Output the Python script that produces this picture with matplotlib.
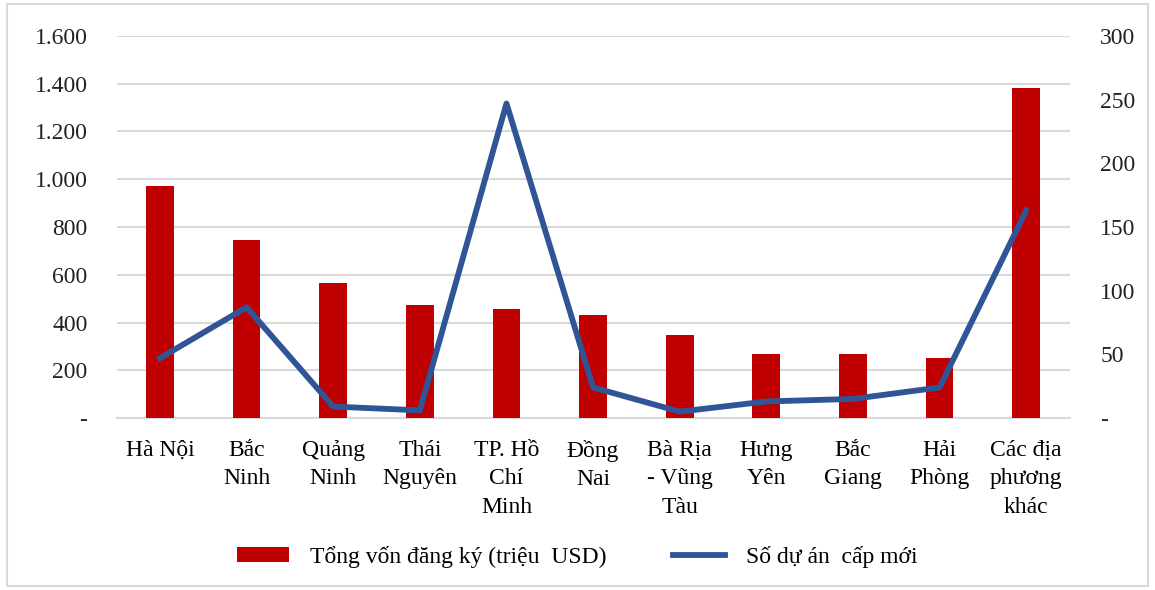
import matplotlib
matplotlib.use('Agg')
import matplotlib.pyplot as plt
from matplotlib.patches import Rectangle
from matplotlib.ticker import FuncFormatter
import numpy as np

plt.rcParams['font.family'] = ['Liberation Serif', 'DejaVu Serif']

# du lieu
dia_phuong = ['Hà Nội', 'Bắc\nNinh', 'Quảng\nNinh', 'Thái\nNguyên', 'TP. Hồ\nChí\nMinh',
              'Đồng\nNai', 'Bà Rịa\n- Vũng\nTàu', 'Hưng\nYên', 'Bắc\nGiang', 'Hải\nPhòng',
              'Các địa\nphương\nkhác']
tong_von = [972, 745, 565, 473, 457, 431, 348, 268, 268, 251, 1382]
so_du_an = [47, 87, 9, 6, 247, 24, 5, 13, 15, 24, 163]

fig = plt.figure(figsize=(11.55, 5.9), dpi=100)
ax = fig.add_axes([0.101, 0.2915, 0.825, 0.6475])
ax2 = ax.twinx()

x = np.arange(len(dia_phuong))
ax.bar(x, tong_von, width=0.32, color='#C00000', zorder=3, label='Tổng vốn đăng ký (triệu  USD)')
ax2.plot(x, so_du_an, color='#2F5597', lw=4.2, zorder=4, label='Số dự án  cấp mới')

ax.set_xlim(-0.5, len(dia_phuong) - 0.5)
ax.set_ylim(0, 1600)
ax.set_yticks(np.arange(0, 1601, 200))
ax2.set_ylim(0, 300)
ax2.set_yticks(np.arange(0, 301, 50))

def dinh_dang(v, pos):
    if v == 0:
        return '-'
    return f'{int(v):,}'.replace(',', '.')

ax.yaxis.set_major_formatter(FuncFormatter(dinh_dang))
ax2.yaxis.set_major_formatter(FuncFormatter(dinh_dang))

ax.grid(axis='y', color='#d9d9d9', lw=1.5, zorder=0)
ax.set_axisbelow(True)
for a in (ax, ax2):
    for s in a.spines.values():
        s.set_visible(False)
ax.spines['bottom'].set_visible(True)
ax.spines['bottom'].set_color('#d9d9d9')
ax.spines['bottom'].set_linewidth(1.5)

ax.set_xticks(x)
ax.set_xticklabels(dia_phuong, fontsize=17, linespacing=1.45, va='top')
ax.tick_params(axis='x', length=0, pad=16, colors='#000000')
ax.tick_params(axis='y', length=0, pad=21, labelsize=17)
ax2.tick_params(axis='y', length=0, pad=22, labelsize=17)
for t in ax.get_yticklabels():
    t.set_color('#222222')
for t in ax2.get_yticklabels():
    t.set_color('#222222')

h1, l1 = ax.get_legend_handles_labels()
h2, l2 = ax2.get_legend_handles_labels()
fig.legend(h1 + h2, l1 + l2, loc='center', bbox_to_anchor=(0.5, 0.056), ncol=2,
           frameon=False, fontsize=17, handlelength=2.2, handleheight=0.55,
           columnspacing=2.8, handletextpad=0.9)

fig.patches.append(Rectangle((0.006, 0.006), 0.988, 0.987, transform=fig.transFigure,
                             fill=False, edgecolor='#d9d9d9', lw=1.5))

fig.savefig('out.png', dpi=100)
